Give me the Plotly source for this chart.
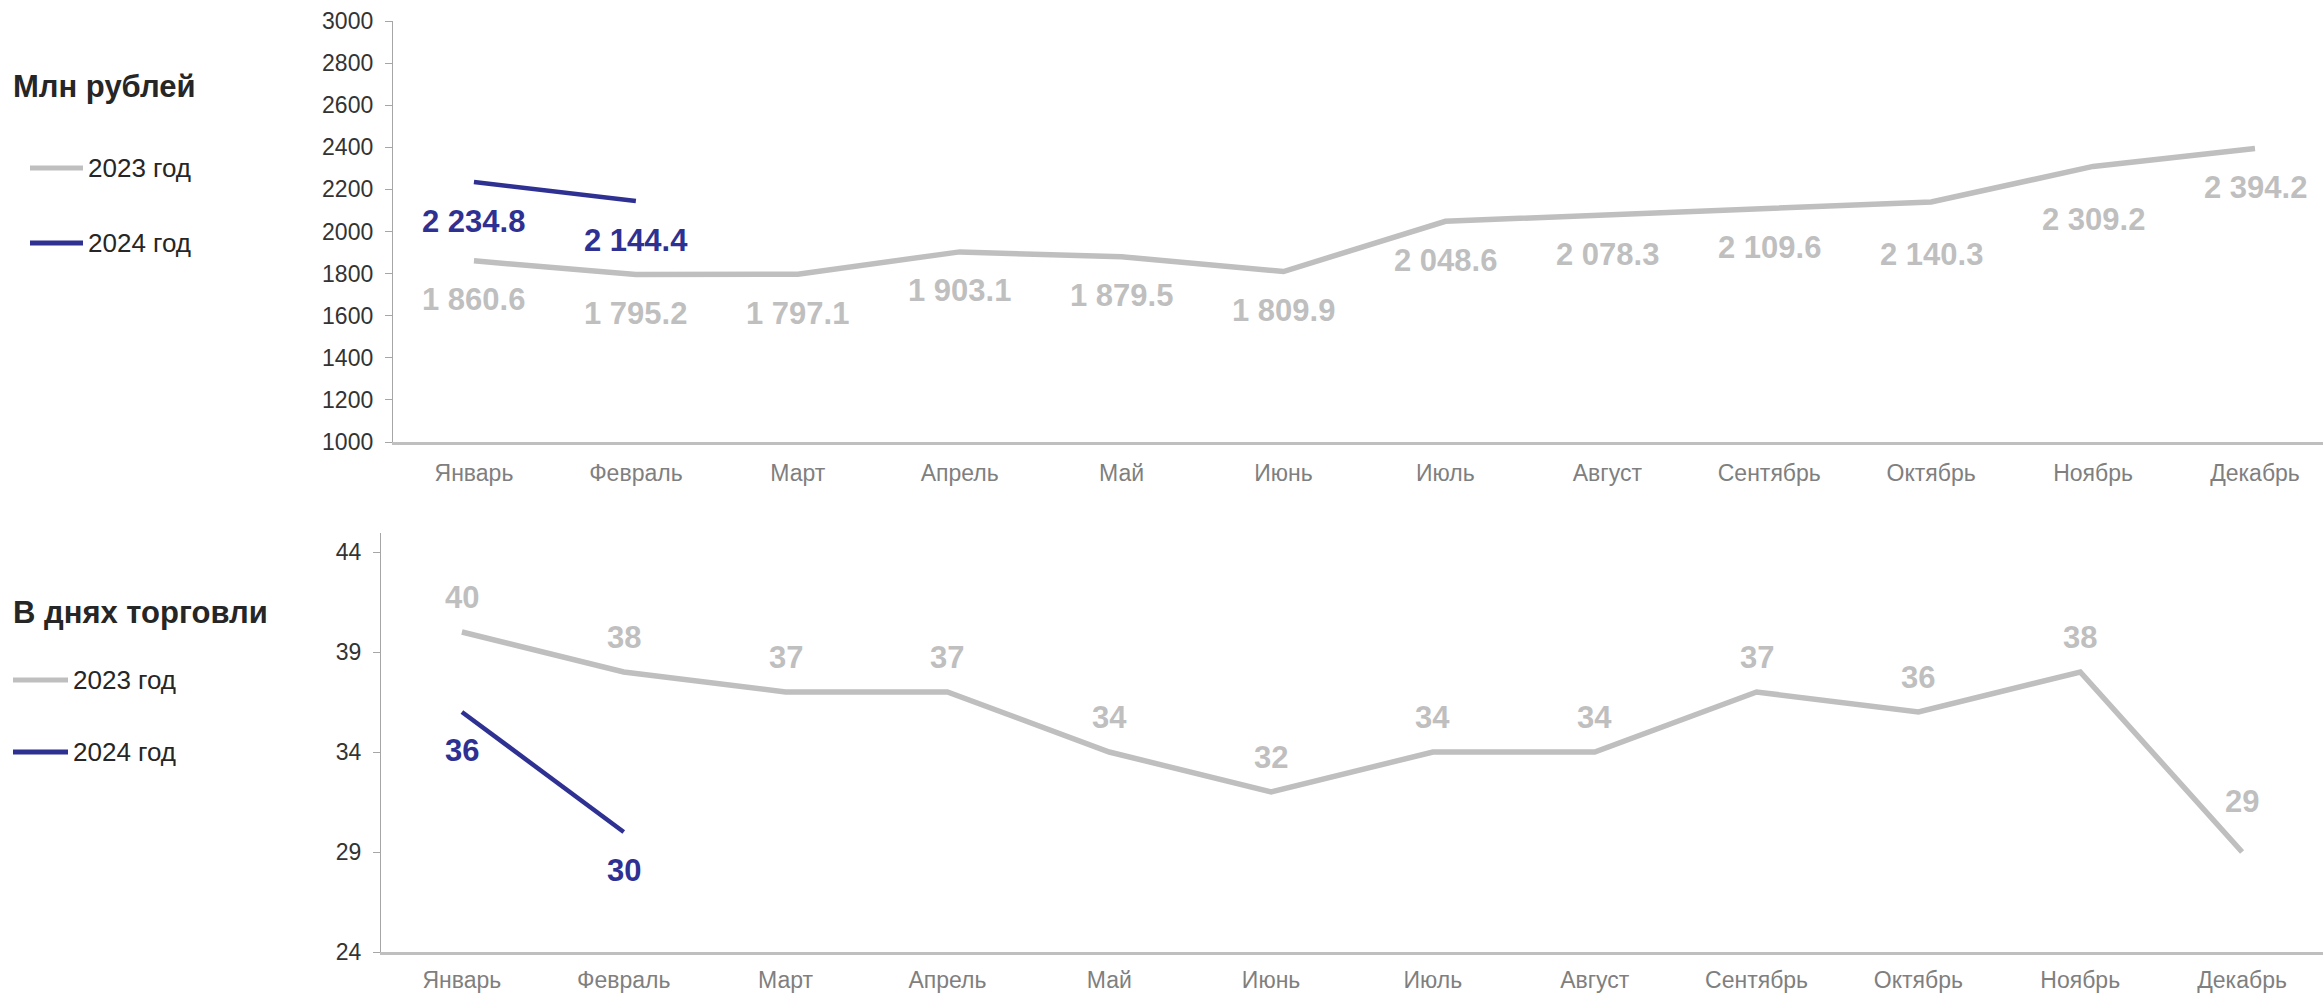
import plotly.graph_objects as go

# ---------------- data ----------------
months = ["Январь", "Февраль", "Март", "Апрель", "Май", "Июнь",
          "Июль", "Август", "Сентябрь", "Октябрь", "Ноябрь", "Декабрь"]
rub_2023 = [1860.6, 1795.2, 1797.1, 1903.1, 1879.5, 1809.9,
            2048.6, 2078.3, 2109.6, 2140.3, 2309.2, 2394.2]
rub_2024 = [2234.8, 2144.4]
days_2023 = [40, 38, 37, 37, 34, 32, 34, 34, 37, 36, 38, 29]
days_2024 = [36, 30]
rub_ticks = [1000, 1200, 1400, 1600, 1800, 2000, 2200, 2400, 2600, 2800, 3000]
days_ticks = [24, 29, 34, 39, 44]
series_names = ["2023 год", "2024 год"]
title_rub = "Млн рублей"
title_days = "В днях торговли"

# ---------------- style ----------------
W, H = 2323, 994
GREY = "#BFBFBF"
NAVY = "#2E3192"
FONT = "Liberation Sans, Arial, sans-serif"

# label vertical offsets (px)
rub_2023_shift = [-39, -39, -39, -39, -39, -39, -39, -39, -39, -53, -53, -39]
rub_2024_shift = [-39, -39]
days_2023_shift = [35, 35, 35, 35, 35, 35, 35, 35, 35, 35, 35, 51]
days_2024_shift = [-38, -38]


def px(x):
    return x / W


def py(y):
    return 1 - y / H


def fmt_rub(v):
    return f"{v:,.1f}".replace(",", " ")


fig = go.Figure()

fig.add_trace(go.Scatter(x=months, y=rub_2023, mode="lines", name=series_names[0],
                         line=dict(color=GREY, width=5.5), xaxis="x", yaxis="y",
                         showlegend=False))
fig.add_trace(go.Scatter(x=months[:len(rub_2024)], y=rub_2024, mode="lines",
                         name=series_names[1], line=dict(color=NAVY, width=4.5),
                         xaxis="x", yaxis="y", showlegend=False))
fig.add_trace(go.Scatter(x=months, y=days_2023, mode="lines", name=series_names[0],
                         line=dict(color=GREY, width=5.5), xaxis="x2", yaxis="y2",
                         showlegend=False))
fig.add_trace(go.Scatter(x=months[:len(days_2024)], y=days_2024, mode="lines",
                         name=series_names[1], line=dict(color=NAVY, width=4.5),
                         xaxis="x2", yaxis="y2", showlegend=False))

annotations = []
LABEL_SIZE = 31


def add_labels(xs, ys, texts, shifts, color, xref, yref):
    for x, y, t, s in zip(xs, ys, texts, shifts):
        annotations.append(dict(x=x, y=y, xref=xref, yref=yref, text=f"<b>{t}</b>",
                                showarrow=False, yshift=s, xanchor="center",
                                yanchor="middle",
                                font=dict(family=FONT, size=LABEL_SIZE, color=color)))


add_labels(months, rub_2023, [fmt_rub(v) for v in rub_2023], rub_2023_shift, GREY, "x", "y")
add_labels(months, rub_2024, [fmt_rub(v) for v in rub_2024], rub_2024_shift, NAVY, "x", "y")
add_labels(months, days_2023, [str(v) for v in days_2023], days_2023_shift, GREY, "x2", "y2")
add_labels(months, days_2024, [str(v) for v in days_2024], days_2024_shift, NAVY, "x2", "y2")

# titles
annotations.append(dict(x=px(11), y=py(87), xref="paper", yref="paper", text=f"<b>{title_rub}</b>",
                        showarrow=False, xanchor="left", yanchor="middle",
                        font=dict(family=FONT, size=31, color="#262626")))
annotations.append(dict(x=px(11), y=py(612), xref="paper", yref="paper", text=f"<b>{title_days}</b>",
                        showarrow=False, xanchor="left", yanchor="middle",
                        font=dict(family=FONT, size=31, color="#262626")))

shapes = []


def legend_item(x0, x1, y, color, text):
    shapes.append(dict(type="line", xref="paper", yref="paper", x0=px(x0), x1=px(x1),
                       y0=py(y), y1=py(y), line=dict(color=color, width=5)))
    annotations.append(dict(x=px(x1 + 3), y=py(y), xref="paper", yref="paper", text=text,
                            showarrow=False, xanchor="left", yanchor="middle",
                            font=dict(family=FONT, size=26, color="#262626")))


legend_item(30, 83, 168, GREY, series_names[0])
legend_item(30, 83, 243, NAVY, series_names[1])
legend_item(13, 68, 680, GREY, series_names[0])
legend_item(13, 68, 752, NAVY, series_names[1])

xaxis_common = dict(type="category", showline=True, linecolor=GREY,
                    linewidth=2.5, ticks="", showgrid=False, zeroline=False,
                    automargin=False,
                    tickfont=dict(family=FONT, size=23, color="#7F7F7F"),
                    categoryorder="array", categoryarray=months)
yaxis_common = dict(showline=True, linecolor="#A6A6A6", linewidth=1.3, ticks="outside",
                    ticklen=7, tickcolor="#A6A6A6", tickwidth=1.3, showgrid=False,
                    zeroline=False, automargin=False,
                    tickfont=dict(family=FONT, size=23, color="#333333"),
                    ticklabelstandoff=7)

fig.update_layout(
    width=W, height=H, autosize=False,
    margin=dict(l=0, r=0, t=0, b=0, pad=0),
    paper_bgcolor="white", plot_bgcolor="white",
    showlegend=False,
    xaxis=dict(domain=[px(393), 1.0], anchor="y", range=[-0.5, 11.42],
               ticklabelstandoff=9, **xaxis_common),
    yaxis=dict(domain=[py(442), py(21)], anchor="x", range=[1000, 3000],
               tickvals=rub_ticks, ticktext=[str(v) for v in rub_ticks], **yaxis_common),
    xaxis2=dict(domain=[px(381), 1.0], anchor="y2", range=[-0.5, 11.5],
                ticklabelstandoff=6, **xaxis_common),
    yaxis2=dict(domain=[py(952), py(533)], anchor="x2", range=[24, 24 + (952 - 533) / 20],
                tickvals=days_ticks, ticktext=[str(v) for v in days_ticks], **yaxis_common),
    annotations=annotations,
    shapes=shapes,
)

fig.write_html("out.html", config={"displayModeBar": False},
               post_script="document.body.style.margin='0';document.body.style.padding='0';")
